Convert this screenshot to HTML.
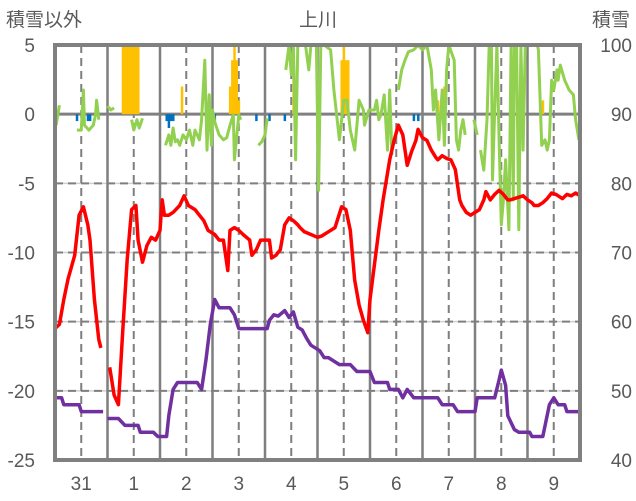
<!DOCTYPE html>
<html><head><meta charset="utf-8">
<style>
html,body{margin:0;padding:0;background:#fff;}
svg{display:block;font-family:"Liberation Sans","Noto Sans CJK JP",sans-serif;}
</style></head>
<body>
<svg id="chart" width="636" height="501" viewBox="0 0 636 501">
<text x="6" y="26" font-size="19" fill="#595959">積雪以外</text>
<text x="318" y="26" font-size="19" fill="#595959" text-anchor="middle">上川</text>
<text x="630" y="26" font-size="19" fill="#595959" text-anchor="end">積雪</text>
<defs><clipPath id="pc"><rect x="55" y="45" width="525" height="415"/></clipPath></defs>
<g id="grid"></g>
<g id="bars" clip-path="url(#pc)"></g>
<g id="lines" clip-path="url(#pc)"></g>
<g id="frame"></g>
<g id="axes"></g>
</svg>
<script>
// left axis ticks
const leftTicks = [5,0,-5,-10,-15,-20,-25];
const rightTicks = [100,90,80,70,60,50,40];
const dayLabels = ["31","1","2","3","4","5","6","7","8","9"];
// temperature (red) — hours since 31st 00:00
const tempHours = [0,2,4,6,9,11,13,15,16,18,20,21,23,25,27,29,31,33,35,37,38,40,42,44,46,48,49,50,52,54,57,59,61,64,66,68,70,73,75,77,79,80,82,84,86,89,90,92,94,96,98,99,101,103,105,107,109,111,112,114,117,120,122,125,128,131,133,135,137,139,141,143,144,146,148,150,153,155,157,159,161,163,165,166,168,170,172,174,175,177,179,181,183,185,186,188,190,192,194,196,197,199,201,203,205,207,208,210,212,214,216,218,219,221,223,225,227,229,230,232,234,236,238,240];
const tempValues = [-15.5,-15.2,-13.4,-11.9,-10.2,-7.3,-6.7,-8.0,-9.1,-13.4,-16.3,-16.9,null,-18.3,-20.3,-21.0,-15.6,-10.5,-6.9,-6.6,-9.1,-10.7,-9.5,-8.9,-9.1,-8.4,-6.2,-7.3,-7.3,-7.1,-6.6,-5.9,-6.6,-6.9,-7.3,-7.7,-8.4,-8.7,-9.1,-9.1,-11.3,-8.4,-8.2,-8.4,-8.7,-9.1,-10.2,-9.8,-9.1,-9.1,-9.1,-10.4,-10.2,-9.8,-8.0,-7.5,-7.7,-8.0,-8.2,-8.5,-8.7,-8.9,-8.8,-8.5,-8.2,-6.7,-6.9,-8.4,-12.0,-13.8,-14.9,-15.8,-13.4,-10.9,-8.4,-6.2,-3.3,-1.9,-0.8,-1.5,-3.7,-2.7,-1.9,-1.1,-1.7,-1.9,-2.6,-3.1,-3.3,-3.0,-3.2,-3.3,-4.0,-6.2,-6.6,-7.1,-7.3,-7.1,-6.9,-6.2,-5.6,-6.2,-5.8,-5.5,-5.8,-6.2,-6.2,-6.1,-6.0,-5.9,-6.2,-6.4,-6.6,-6.6,-6.4,-6.1,-5.7,-5.8,-5.9,-6.1,-5.8,-5.9,-5.7,-5.9];
// purple series
const purpleHours = [0,3,4,11,12,22,23,24,29,32,38,39,45,47,51,52,54,56,65,67,69,71,73,75,80,82,84,97,98,100,102,105,107,109,111,113,115,117,121,123,125,130,135,138,144,146,152,153,157,159,161,164,166,169,175,177,182,184,192,193,201,203,204,206,207,210,212,217,218,223,226,228,230,233,234,240];
const purpleValues = [-20.5,-20.5,-21.0,-21.0,-21.5,-21.5,null,-22.0,-22.0,-22.5,-22.5,-23.0,-23.0,-23.3,-23.3,-21.8,-19.9,-19.4,-19.4,-19.9,-17.8,-15.2,-13.4,-14.0,-14.0,-14.5,-15.5,-15.5,-14.9,-14.5,-14.6,-14.2,-14.7,-14.3,-15.4,-15.6,-16.2,-16.7,-17.1,-17.6,-17.6,-18.1,-18.1,-18.6,-18.6,-19.4,-19.4,-19.9,-19.9,-20.5,-19.9,-20.5,-20.5,-20.5,-20.5,-21.0,-21.0,-21.5,-21.5,-20.5,-20.5,-19.2,-18.5,-19.6,-21.8,-22.8,-23.0,-23.0,-23.3,-23.3,-21.0,-20.5,-21.0,-21.0,-21.5,-21.5];
// snow depth (green, right axis)
const snowHours = [0.5,2,null,10,12,13,13.5,15.5,17.5,18.5,19,20,null,24,25.5,27,null,35,36,37.5,38.5,40,null,50.5,52,53,54,55,56,57,58.5,60,61.5,63,64,66,67,68.5,69.5,70.5,71.5,72,73,75,77,78.5,80,81.5,82,84,85,null,93,94.5,96,97,null,105.5,107,108,109,110,111,112.5,114.5,116,117,119.5,120.5,121.5,123,126,127.5,130,132,133.5,135,137,139,141,141.5,143.5,146,147,148,149,150.5,152,153,154,null,157,158.5,160,161.5,164,166,168,170,172,173,174,175.5,177,178,179,180,182.5,183.5,184.5,185.5,186.5,187.5,null,191.5,193,null,194.5,196,197.5,198.5,199.5,200,201,202,203,204,205,206,207.5,208.5,209.5,210,211,212,213,214,215,null,220.5,221,222.5,224,225,226,227,228,229.5,230,231,233,235,237,238,239.5];
const snowValues = [88.4,91.3,null,87.7,87.7,93.5,88.4,87.7,88.4,89.9,92.0,89.2,null,91.2,90.6,90.9,null,89.2,87.7,89.2,88.0,89.4,null,85.5,87.0,85.5,88.0,86.0,86.3,85.5,87.0,86.3,87.7,85.5,87.7,86.3,89.2,97.8,84.8,92.8,85.5,90.6,88.9,87.0,86.3,86.6,88.4,89.9,83.4,89.9,89.2,null,85.5,86.0,87.0,89.4,null,96.4,100,95.7,100,83.4,100,100,100,96.4,100,100,79.0,100,100,99.3,93.5,86.3,92.0,92.0,87.7,84.8,92.0,90.6,88.4,90.6,90.6,92.0,89.2,89.9,92.8,84.8,93.5,84.1,null,93.5,96.4,97.8,99.0,99.3,100,99.3,100,96.4,90.6,93.5,86.3,93.5,85.5,96.4,100,97.8,86.3,84.8,87.7,89.2,87.0,null,89.2,87.0,null,84.8,81.9,89.2,100,100,80.5,90.6,100,86.3,74.0,77.6,83.4,73.3,100,77.6,100,100,73.3,100,84.8,100,null,100,99.3,85.5,86.3,84.8,86.3,94.9,93.5,96.4,94.9,97.1,94.9,93.5,92.8,89.2,86.3];
// snowfall bars (orange) and negative bars (blue)
const snowfallHours = [31,32,33,34,35,36,37,38,58,80,81,82,83,84,109,131,132,133,134,175,178,223];
const snowfallValues = [6,6,6,6,6,6,6,6,2.0,2.0,3.9,6,3.9,1.0,2.9,3.9,6,3.9,3.9,1.0,2.0,1.0];
const blueHours = [10,15,16,51,52,53,54,67,73,92,98,105,164,166];
const blueValues = [-0.5,-0.5,-0.5,-0.5,-1.0,-0.5,-0.5,-0.5,-0.5,-0.5,-0.5,-0.5,-0.5,-0.5];

const X0=55, X1=580, YT=45, YB=460;
const xs = h => X0 + h*(X1-X0)/240;
const yl = v => YT + (5-v)*(YB-YT)/30;
const yr = v => YT + (100-v)*(YB-YT)/60;
const NS='http://www.w3.org/2000/svg';
function mk(tag, attrs, parent){const e=document.createElementNS(NS,tag);for(const k in attrs)e.setAttribute(k,attrs[k]);parent.appendChild(e);return e;}
const grid=document.getElementById('grid'), axes=document.getElementById('axes'), bars=document.getElementById('bars'), lines=document.getElementById('lines'), frame=document.getElementById('frame');

leftTicks.forEach(v=>{
  const y=yl(v);
  if(v!==5 && v!==-25){
    const g1=mk('line',{x1:X0,x2:X1,y1:y,y2:y,stroke:'#d0d0d0','stroke-width':1.5},grid);
    
    
    if(v!==0){
      const g2=mk('line',{x1:X0,x2:X1,y1:y,y2:y,stroke:'#7f7f7f','stroke-width':2,'stroke-dasharray':'8,5'},grid);
      
      
    }
  }
  const t=mk('text',{x:35,y:y+7,'font-size':19,fill:'#595959','text-anchor':'end'},axes);
  t.textContent=v;
  
  
});
rightTicks.forEach(v=>{
  const t=mk('text',{x:632,y:yr(v)+7,'font-size':19,fill:'#595959','text-anchor':'end'},axes);
  t.textContent=v;
  
  
});
dayLabels.forEach((d,i)=>{
  const xb=xs(i*24), xn=xs(i*24+12);
  if(i>0){
    const l=mk('line',{x1:xb,x2:xb,y1:YT,y2:YB,stroke:'#7f7f7f','stroke-width':2.5},grid);
    
    
  }
  const n=mk('line',{x1:xn,x2:xn,y1:YT,y2:YB,stroke:'#7f7f7f','stroke-width':2,'stroke-dasharray':'8,5'},grid);
  
  
  const t=mk('text',{x:xn,y:490,'font-size':19,fill:'#595959','text-anchor':'middle'},axes);
  t.textContent=d;
  
  
});
// zero line
const z=mk('line',{x1:X0,x2:X1,y1:yl(0),y2:yl(0),stroke:'#808080','stroke-width':3},grid);



const bw=(X1-X0)/240;
snowfallHours.forEach((h,i)=>{
  const v=snowfallValues[i];
  const r=mk('rect',{x:xs(h)-bw/2,y:yl(v),width:bw+0.3,height:yl(0)-yl(v),fill:'#ffc000'},bars);
  
  
});
blueHours.forEach((h,i)=>{
  const v=blueValues[i];
  const r=mk('rect',{x:xs(h)-bw/2,y:yl(0),width:bw+0.3,height:yl(v)-yl(0),fill:'#0070c0'},bars);
  
  
});
function path(hs, vs, yf){
  let d='', pen=false;
  for(let i=0;i<hs.length;i++){
    if(hs[i]===null||vs[i]===null){pen=false;continue;}
    d+=(pen?'L':'M')+xs(hs[i]).toFixed(1)+','+yf(vs[i]).toFixed(1);
    pen=true;
  }
  return d;
}
const gp=mk('path',{d:path(snowHours,snowValues,yr),fill:'none',stroke:'#92d050','stroke-width':3,'stroke-linejoin':'round'},lines);


const pp=mk('path',{d:path(purpleHours,purpleValues,yl),fill:'none',stroke:'#7030a0','stroke-width':3.5,'stroke-linejoin':'round'},lines);


const rp=mk('path',{d:path(tempHours,tempValues,yl),fill:'none',stroke:'#ff0000','stroke-width':3.5,'stroke-linejoin':'round'},lines);



const fr=mk('rect',{x:X0,y:YT,width:X1-X0,height:YB-YT,fill:'none',stroke:'#808080','stroke-width':4},frame);


</script>
</body></html>
